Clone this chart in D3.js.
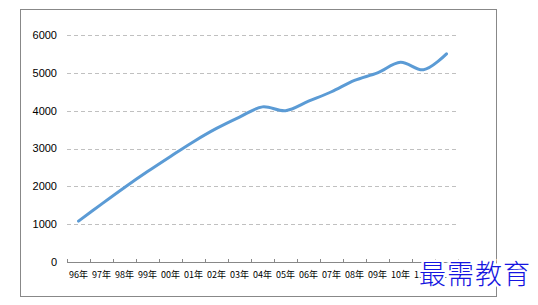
<!DOCTYPE html>
<html>
<head>
    <meta charset="UTF-8">
    <script src="https://d3js.org/d3.v7.min.js"></script>
    <style>
        body { margin: 0; background: #fff; }
        svg { display: block; font-family: "Noto Sans CJK SC", "Liberation Sans", sans-serif; }
        .grid line { stroke: #c0c0c0; stroke-dasharray: 4 3; }
    </style>
</head>
<body>
    <div id="viz"></div>
    <script>
        // years on the category axis
        const years = ["96年", "97年", "98年", "99年", "00年", "01年", "02年", "03年", "04年",
            "05年", "06年", "07年", "08年", "09年", "10年", "11年", "12年"];
        // values
        const values = [1080, 1530, 1970, 2390, 2790, 3180, 3530, 3830, 4100,
            4000, 4250, 4500, 4800, 5000, 5280, 5080, 5500];
        const yTicks = [0, 1000, 2000, 3000, 4000, 5000, 6000];

        const width = 538, height = 305;
        const plot = { left: 67, right: 458, top: 35, bottom: 262 };

        const svg = d3.select("#viz").append("svg")
            .attr("width", width)
            .attr("height", height);

        // chart frame
        svg.append("rect")
            .attr("x", 20.5).attr("y", 9.5)
            .attr("width", 476).attr("height", 287)
            .attr("fill", "none")
            .attr("stroke", "#888");

        const x = d3.scaleBand()
            .domain(years)
            .range([plot.left, plot.right]);

        const y = d3.scaleLinear()
            .domain([0, 6000])
            .range([plot.bottom, plot.top]);

        // dashed gridlines
        svg.append("g")
            .attr("class", "grid")
            .selectAll("line")
            .data(yTicks.filter(d => d > 0))
            .enter()
            .append("line")
            .attr("x1", plot.left)
            .attr("x2", plot.right)
            .attr("y1", d => Math.round(y(d)) + 0.5)
            .attr("y2", d => Math.round(y(d)) + 0.5);

        // y labels
        svg.append("g")
            .selectAll("text")
            .data(yTicks)
            .enter()
            .append("text")
            .attr("x", 57)
            .attr("y", d => y(d))
            .attr("dy", "0.35em")
            .attr("text-anchor", "end")
            .style("font-family", "'Liberation Sans', sans-serif")
            .style("font-size", "11px")
            .attr("fill", "#000")
            .text(d => d);

        // x axis line and ticks
        const xAxis = svg.append("g").attr("stroke", "#888");
        xAxis.append("line")
            .attr("x1", plot.left).attr("x2", plot.right)
            .attr("y1", plot.bottom + 0.5).attr("y2", plot.bottom + 0.5);
        xAxis.selectAll(".tk")
            .data(years.concat(["end"]))
            .enter()
            .append("line")
            .attr("class", "tk")
            .attr("x1", (d, i) => Math.round(plot.left + i * x.bandwidth()) + 0.5)
            .attr("x2", (d, i) => Math.round(plot.left + i * x.bandwidth()) + 0.5)
            .attr("y1", plot.bottom - 3)
            .attr("y2", plot.bottom + 0.5);

        svg.append("g")
            .selectAll("text")
            .data(years)
            .enter()
            .append("text")
            .attr("x", d => x(d) + x.bandwidth() / 2)
            .attr("y", 275)
            .attr("dy", "0.35em")
            .attr("text-anchor", "middle")
            .style("font-size", "9px")
            .attr("fill", "#000")
            .text(d => d);

        // smoothed line
        const line = d3.line()
            .x((d, i) => x(years[i]) + x.bandwidth() / 2)
            .y(d => y(d))
            .curve(d3.curveCatmullRom.alpha(0.5));

        svg.append("path")
            .datum(values)
            .attr("fill", "none")
            .attr("stroke", "#5b9bd5")
            .attr("stroke-width", 3)
            .attr("stroke-linecap", "round")
            .attr("d", line);

        // watermark
        svg.append("text")
            .attr("x", 419)
            .attr("y", 284)
            .style("font-size", "27px")
            .style("font-weight", 300)
            .style("letter-spacing", "1px")
            .attr("fill", "#1515e0")
            .attr("stroke", "#fff")
            .attr("stroke-width", 5)
            .attr("paint-order", "stroke")
            .text("最需教育");
    </script>
</body>
</html>
